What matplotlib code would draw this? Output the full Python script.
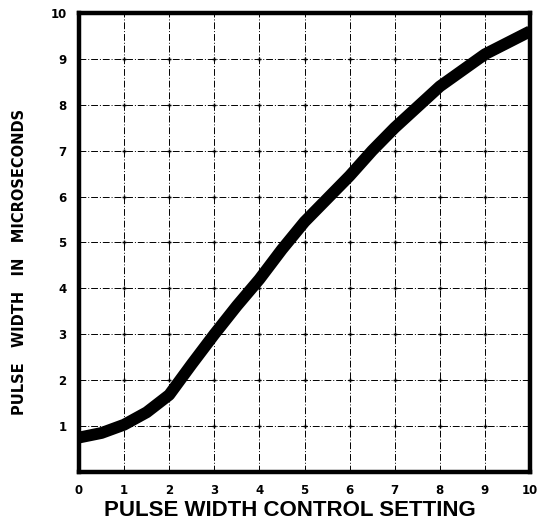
import matplotlib.pyplot as plt
import numpy as np

# control setting vs pulse width
setting = [0, 0.5, 1, 1.5, 2, 2.5, 3, 3.5, 4, 4.5, 5, 5.5, 6, 6.5, 7, 7.5, 8, 8.5, 9, 9.5, 10]
width_us = [0.75, 0.85, 1.03, 1.3, 1.68, 2.35, 3.0, 3.62, 4.2, 4.85, 5.45, 5.95, 6.45,
            7.0, 7.5, 7.95, 8.4, 8.75, 9.1, 9.35, 9.6]
xticks = list(range(0, 11))
yticks = list(range(1, 11))

fig = plt.figure(figsize=(5.45, 5.27), dpi=100)
ax = fig.add_axes([0.145, 0.1044, 0.8275, 0.871])

ax.plot(setting, width_us, color='black', lw=8.5, solid_capstyle='butt',
        solid_joinstyle='round', zorder=3)

ax.set_xlim(0, 10)
ax.set_ylim(0, 10)
ax.set_xticks(xticks)
ax.set_yticks(yticks)
ax.set_xticklabels([str(t) for t in xticks], fontsize=8.5, fontweight='bold')
ax.set_yticklabels([str(t) for t in yticks], fontsize=8.5, fontweight='bold')
ax.tick_params(length=0, pad=9)

ax.grid(True, color='black', lw=0.7, linestyle=(0, (7, 2, 1, 2)))
gx, gy = np.meshgrid(xticks[1:-1], yticks[:-1])
ax.plot(gx.ravel(), gy.ravel(), '+', color='black', ms=3.5, mew=1, zorder=2)

for s in ax.spines.values():
    s.set_linewidth(3.2)

fig.text(20 / 545, 1 - 262 / 527, 'PULSE   WIDTH   IN   MICROSECONDS', rotation=90,
         ha='center', va='center', fontsize=10.5, fontweight='bold')

fig.text(290 / 545, 1 - 510 / 527, 'PULSE WIDTH CONTROL SETTING', ha='center', va='center',
         fontsize=16, fontweight='bold', family='Liberation Sans')

fig.savefig('out.png', dpi=100)
